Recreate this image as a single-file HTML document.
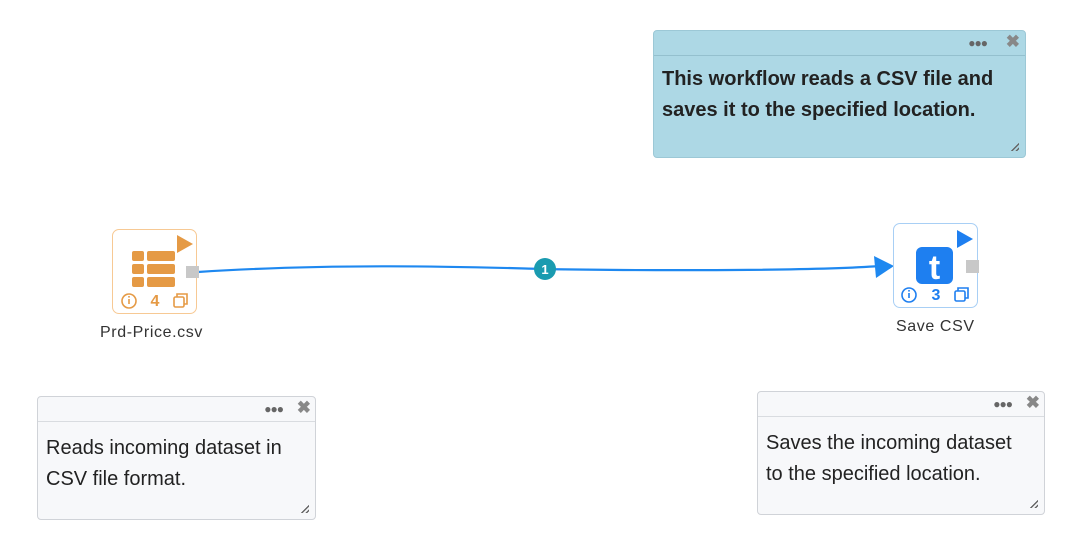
<!DOCTYPE html>
<html><head><meta charset="utf-8"><style>
body{margin:0;width:1077px;height:553px;background:#fff;position:relative;overflow:hidden;font-family:"Liberation Sans",sans-serif}
.note{position:absolute;border:1px solid #d0d3d8;border-radius:4px;background:#f7f8fa;box-sizing:border-box}
.note .hd{height:24px;border-bottom:1px solid #d9dce0;position:relative}
.dots{position:absolute;top:5px;font-size:12px;color:#666;letter-spacing:-1px;font-weight:bold}
.x{position:absolute;top:1px;font-size:17px;color:#888;font-weight:bold}
.note .tx{padding:11px 8px 8px;font-size:20px;line-height:31px;color:#222;white-space:nowrap}
.grip{position:absolute;right:6px;bottom:6px;width:10px;height:10px;background:repeating-linear-gradient(135deg,transparent 0 2px,#666 2px 3.2px);clip-path:polygon(100% 0,100% 100%,0 100%)}
.node{position:absolute;width:85px;height:85px;border-radius:7px;box-sizing:border-box;background:#fff}
.lbl{position:absolute;font-size:16px;color:#333;letter-spacing:.6px}
</style></head><body>
<svg style="position:absolute;left:0;top:0" width="1077" height="553">
<path d="M198 272 C 350 262, 500 268, 545 269 S 800 272, 880 266" stroke="#1e88f0" stroke-width="2.2" fill="none"/>
<polygon points="874,256 894,266 876,278" fill="#1e88f0"/>
<circle cx="545" cy="269" r="11" fill="#1a9bb0"/>
<text x="545" y="274" text-anchor="middle" font-size="13" font-weight="bold" fill="#fff" font-family="Liberation Sans">1</text>
</svg>

<div class="note" style="left:653px;top:30px;width:373px;height:128px;background:#add8e5;border-color:#9cc8d6">
<div class="hd" style="border-color:#94c0ce"><span class="dots" style="right:38px">●●●</span><span class="x" style="right:5px">✖</span></div>
<div class="tx" style="font-weight:bold;padding-top:8px;line-height:31px">This workflow reads a CSV file and<br>saves it to the specified location.</div>
<div class="grip"></div></div>

<div class="node" style="left:112px;top:229px;border:1px solid #f7c994">
<svg width="85" height="85" style="position:absolute;left:-1px;top:-1px">
<polygon points="65,6 81,15 65,24" fill="#e59a45"/>
<g fill="#e59a45"><rect x="20" y="22" width="12" height="10" rx="2"/><rect x="35" y="22" width="28" height="10" rx="2"/>
<rect x="20" y="35" width="12" height="10" rx="2"/><rect x="35" y="35" width="28" height="10" rx="2"/>
<rect x="20" y="48" width="12" height="10" rx="2"/><rect x="35" y="48" width="28" height="10" rx="2"/></g>
<circle cx="17" cy="72" r="7" fill="none" stroke="#e59a45" stroke-width="1.6"/><rect x="16.2" y="70" width="1.6" height="5" fill="#e59a45"/><rect x="16.2" y="67" width="1.6" height="1.6" fill="#e59a45"/>
<text x="43" y="77" text-anchor="middle" font-size="16" font-weight="bold" fill="#e59a45" font-family="Liberation Sans">4</text>
<rect x="62" y="68" width="10" height="10" rx="1.5" fill="none" stroke="#e59a45" stroke-width="1.6"/><path d="M65 68 V65 H75 V75 H72" fill="none" stroke="#e59a45" stroke-width="1.6"/>
</svg>
<div style="position:absolute;left:73px;top:36px;width:13px;height:12px;background:#c8c8c8"></div>
</div>
<div class="lbl" style="left:100px;top:324px">Prd-Price.csv</div>

<div class="node" style="left:893px;top:223px;border:1px solid #a8cff5">
<svg width="85" height="85" style="position:absolute;left:-1px;top:-1px">
<polygon points="64,7 80,16 64,25" fill="#1e7ff0"/>
<rect x="23" y="24" width="37" height="37" rx="6" fill="#1e7ff0"/>
<text x="41.5" y="56" text-anchor="middle" font-size="34" font-weight="bold" fill="#fff" font-family="Liberation Sans">t</text>
<circle cx="16" cy="72" r="7" fill="none" stroke="#1e7ff0" stroke-width="1.6"/><rect x="15.2" y="70" width="1.6" height="5" fill="#1e7ff0"/><rect x="15.2" y="67" width="1.6" height="1.6" fill="#1e7ff0"/>
<text x="43" y="77" text-anchor="middle" font-size="16" font-weight="bold" fill="#1e7ff0" font-family="Liberation Sans">3</text>
<rect x="62" y="68" width="10" height="10" rx="1.5" fill="none" stroke="#1e7ff0" stroke-width="1.6"/><path d="M65 68 V65 H75 V75 H72" fill="none" stroke="#1e7ff0" stroke-width="1.6"/>
</svg>
<div style="position:absolute;left:72px;top:36px;width:13px;height:13px;background:#c8c8c8"></div>
</div>
<div class="lbl" style="left:896px;top:318px">Save CSV</div>

<div class="note" style="left:37px;top:396px;width:279px;height:124px">
<div class="hd"><span class="dots" style="right:32px">●●●</span><span class="x" style="right:4px">✖</span></div>
<div class="tx">Reads incoming dataset in<br>CSV file format.</div><div class="grip"></div></div>

<div class="note" style="left:757px;top:391px;width:288px;height:124px">
<div class="hd"><span class="dots" style="right:32px">●●●</span><span class="x" style="right:4px">✖</span></div>
<div class="tx">Saves the incoming dataset<br>to the specified location.</div><div class="grip"></div></div>
</body></html>
